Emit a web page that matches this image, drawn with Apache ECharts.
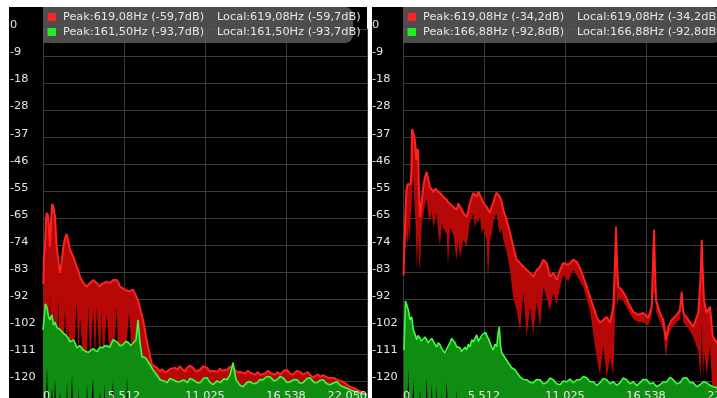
<!DOCTYPE html>
<html>
<head>
<meta charset="utf-8">
<script src="https://cdn.jsdelivr.net/npm/echarts@6/dist/echarts.min.js"></script>
<style>
  html, body { margin: 0; padding: 0; background: #fff; }
  #chart { width: 717px; height: 398px; }
</style>
</head>
<body>
<div id="chart"></div>
<script>
// Tick labels shown on the axes
const yTickLabels = ['0', '-9', '-18', '-28', '-37', '-46', '-55', '-65', '-74', '-83', '-92', '-102', '-111', '-120', ''];
const xTickLabels = ['0', '5 512', '11 025', '16 538', '22 050'];

// Legend readouts
const leftLegend = [
  ['Peak:619,08Hz (-59,7dB)', 'Local:619,08Hz (-59,7dB)'],
  ['Peak:161,50Hz (-93,7dB)', 'Local:161,50Hz (-93,7dB)']
];
const rightLegend = [
  ['Peak:619,08Hz (-34,2dB)', 'Local:619,08Hz (-34,2dB)'],
  ['Peak:166,88Hz (-92,8dB)', 'Local:166,88Hz (-92,8dB)']
];

// ---- Left screen: red trace (frequency in Hz, top of trace in dB, bottom of the filled band in dB)
const leftRedHz = [
  20, 68, 136, 204, 252, 340, 408, 476, 544, 619,
  701, 817, 932, 1041, 1157, 1259, 1382, 1497, 1613, 1701,
  1838, 2062, 2294, 2416, 2518, 2743, 2974, 3097, 3199, 3423,
  3539, 3655, 3879, 3981, 4104, 4335, 4560, 4784, 5016, 5138,
  5240, 5581, 5853, 6125, 6465, 6806, 7146, 7418,
  7758, 7963, 8099, 8303, 8439, 8643, 8779, 8983, 9120, 9324,
  9460, 9664, 9800, 10004, 10208, 10413, 10685, 10889, 11161, 11365,
  11570, 11842, 12046, 12182, 12522, 12727, 12931, 13203, 13407, 13747,
  13951, 14088, 14428, 14632, 14768, 15108, 15312, 15449, 15789, 15993,
  16129, 16401, 16606, 16810, 17014, 17286, 17490, 17695, 17831, 18035,
  18171, 18375, 18511, 18716, 18852, 19056, 19192, 19396, 19532, 19805,
  20008, 20213, 20417, 20689, 20893, 21166, 21370, 21710, 22050
];
const leftRedTop = [
  -87, -78, -74, -65, -62.7, -63.5, -64.1, -74.3, -66, -59.7,
  -60.5, -64.1, -74.3, -78.7, -83.2, -80, -74.3, -71.5, -69.9, -72,
  -75.3, -77.7, -81.1, -82.5, -84.5, -86.6, -87.9, -87.5, -86.6, -85.6,
  -86, -86.6, -87.9, -87, -86.6, -86.2, -86.6, -85.6, -85.6, -86.5,
  -87.9, -88.9, -89.5, -88.9, -92.4, -99.2, -108.4, -114.5,
  -115.5, -116.8, -116, -117.2, -116.9, -116, -116.5, -115.5, -116.2, -115,
  -115.8, -116.8, -115.5, -114.8, -115.5, -116.8, -116.2, -115, -115.5, -116.8,
  -116.5, -116.9, -115.8, -116.5, -116.2, -115.2, -115.5, -117, -116.9, -117.5,
  -116.5, -117.2, -117.9, -117, -117.9, -117.5, -116.5, -117.2, -117.9, -117,
  -117.9, -116.5, -116.2, -117.5, -117.9, -116.5, -116.9, -117.8, -117.9, -117,
  -117.9, -118.8, -118.6, -117.8, -118.6, -118, -118.2, -119, -118.6, -119,
  -119.6, -120, -120.3, -121.2, -122, -122.5, -123, -123.8, -124.7
];
const leftRedLow = [
  -114, -114, -100, -114, -114, -95, -114, -90, -114, -114,
  -96, -114, -114, -92, -114, -114, -114, -95, -114, -100,
  -114, -114, -93, -114, -98, -114, -114, -94, -114, -96,
  -114, -95, -114, -96, -114, -97, -114, -114, -95, -114,
  -114, -114, -97, -114, -114, -115, -118, -126,
  -126, -126, -126, -126, -126, -126, -126, -126, -126, -126,
  -126, -126, -126, -126, -126, -126, -126, -126, -126, -126,
  -126, -126, -126, -126, -126, -126, -126, -126, -126, -126,
  -126, -126, -126, -126, -126, -126, -126, -126, -126, -126,
  -126, -126, -126, -126, -126, -126, -126, -126, -126, -126,
  -126, -126, -126, -126, -126, -126, -126, -126, -126, -126,
  -126, -126, -126, -126, -126, -126, -126, -126, -126
];

// ---- Left screen: green trace
const leftGreenHz = [
  0, 68, 161.5, 272, 374, 476, 613, 715, 817, 953,
  1157, 1361, 1565, 1633, 1735, 1838, 1974, 2076, 2314, 2416,
  2518, 2722, 2926, 2994, 3097, 3199, 3403, 3505, 3675, 3879,
  4083, 4185, 4288, 4560, 4764, 4866, 5036, 5240, 5444, 5648,
  5717, 5819, 5989, 6125, 6329, 6465, 6601, 6738, 6942, 7078,
  7282, 7486, 7758,
  7963, 8235, 8439, 8643, 8847, 9120, 9324, 9596, 9800, 10004,
  10208, 10481, 10685, 10957, 11161, 11365, 11570, 11842, 12046, 12318,
  12522, 12727, 12931, 13135, 13407, 13611, 13883, 14088, 14360, 14564,
  14768, 14972, 15244, 15449, 15721, 15925, 16129, 16333, 16606, 16810,
  17082, 17286, 17490, 17695, 17967, 18171, 18443, 18647, 18852, 19056,
  19328, 19532, 19805, 20008, 20213, 20417, 20689, 20893, 21166, 21370,
  21710, 22050
];
const leftGreenTop = [
  -102.6, -99, -93.7, -95, -98, -99.2, -97.5, -101, -100, -101.9,
  -102.5, -103.6, -104.5, -104.8, -105.5, -106.7, -106.3, -106, -108.7, -108.4,
  -108, -109.4, -110, -110.2, -110.3, -110.4, -109, -109.5, -110, -108.5,
  -108.7, -108, -107.5, -108.4, -106, -106.5, -106.7, -108, -107.7, -106.5,
  -106.6, -107, -108, -108.4, -106, -99.2, -107, -111.8, -112, -112.8,
  -114.5, -116.2, -118,
  -119.6, -120, -120.6, -119.2, -119.6, -120.3, -120.3, -119.6, -120.6, -119.2,
  -119.6, -120.6, -120.6, -119, -118.9, -120.5, -121.3, -120, -120.6, -119.3,
  -119.6, -118, -113.8, -119.6, -121.5, -122, -120.5, -120.3, -121, -120.6,
  -119.5, -119.6, -118.5, -118.6, -120, -119.6, -118.5, -118.9, -120.5, -120.3,
  -119.5, -119.6, -120.8, -120.6, -119.2, -118.9, -120.5, -120.6, -119.8, -119.6,
  -121, -121.3, -120.6, -120.3, -121.5, -122, -122.5, -123, -123.5, -124,
  -124.3, -124.7
];
const leftGreenLow = [
  -135, -135, -135, -115, -135, -135, -122, -135, -119, -135,
  -124, -135, -135, -120, -135, -135, -118, -135, -135, -123,
  -135, -135, -135, -121, -135, -135, -119, -135, -135, -124,
  -135, -121, -135, -135, -120, -135, -135, -125, -135, -135,
  -118, -135, -135, -126, -135, -135, -135, -135, -135, -135,
  -135, -135, -135,
  -135, -135, -135, -135, -135, -135, -135, -135, -135, -135,
  -135, -135, -135, -135, -135, -135, -135, -135, -135, -135,
  -135, -135, -135, -135, -135, -135, -135, -135, -135, -135,
  -135, -135, -135, -135, -135, -135, -135, -135, -135, -135,
  -135, -135, -135, -135, -135, -135, -135, -135, -135, -135,
  -135, -135, -135, -135, -135, -135, -135, -135, -135, -135,
  -135, -135
];

// ---- Right screen: red trace
const rightRedHz = [
  34, 102, 170, 238, 306, 374, 442, 510, 578, 619,
  701, 783, 851, 898, 953, 1021, 1089, 1157, 1225, 1293,
  1382, 1497, 1613, 1722, 1838, 1953, 2062, 2178, 2294, 2402,
  2518, 2634, 2743, 2974, 3063, 3199, 3423, 3655, 3763, 3879,
  4104, 4335, 4444, 4560, 4784, 4900, 5016, 5125, 5240, 5356,
  5465, 5696, 5785, 5921, 6036, 6145, 6261, 6377, 6486, 6601,
  6717, 6826, 7057, 7282, 7507, 7738, 7963, 8187, 8419, 8643,
  8868, 9099, 9324, 9548, 9780, 10004, 10229, 10460, 10685, 10909,
  11250, 11590, 11821, 12046, 12270, 12502, 12727, 12951, 13182, 13407,
  13632, 13863, 14088, 14312, 14428, 14496, 14564, 14653, 14884, 15108,
  15333, 15673, 16013, 16354, 16694, 16926, 17014, 17082, 17150, 17218,
  17490, 17715, 17899, 18055, 18286, 18627, 18852, 18968, 19076, 19417,
  19757, 20097, 20247, 20329, 20417, 20485, 20669, 20893, 21077, 21370,
  21710, 22050
];
const rightRedTop = [
  -84, -72, -62, -55, -53, -52.5, -53.5, -53, -48, -34.2,
  -35.5, -37, -40, -44.7, -42, -41, -55.9, -64.1, -61, -58,
  -53.9, -50.5, -48.8, -51.5, -53.9, -54, -55.6, -54.5, -54.2, -55.5,
  -54.9, -56.5, -57.3, -58.3, -59, -59.3, -60.7, -61.7, -59.5, -60,
  -62.7, -64.1, -62, -59.3, -55.9, -56.5, -57.3, -55.5, -55.6, -58,
  -59.3, -60.7, -61.5, -62.7, -60.5, -59.3, -57, -55.9, -56.5, -57.3,
  -59, -61.7, -65.1, -69.5, -74.3, -78.7, -79.8, -81.1, -82.2, -83.2,
  -84.5, -82.2, -81.1, -78.7, -79.8, -84.5, -83.2, -85.6, -82.2, -79.8,
  -80.4, -78.7, -79.4, -81.5, -84.5, -87.9, -91.3, -94.7, -98.2, -100.2,
  -99.2, -98.2, -100.2, -94.7, -80, -67.5, -80, -87.9, -88.9, -90.7,
  -93.4, -96.5, -97.5, -96.8, -98.5, -94.7, -80, -68.5, -82, -92.4,
  -96.8, -99.2, -106, -101.6, -99.2, -97.5, -95.8, -89.6, -96.8, -99.2,
  -101.6, -96.8, -85, -71.9, -85, -92.4, -96.8, -94.7, -104.9, -107,
  -108, -110
];
const rightRedLow = [
  -86, -80, -74, -70, -74, -68, -72, -64, -62, -55,
  -50, -60, -66, -75, -83, -70, -78, -83, -72, -66,
  -64, -60, -58, -63, -66, -62, -68, -65, -63, -70,
  -74, -66, -68, -70, -81, -68, -70, -79, -72, -78,
  -72, -74, -70, -66, -63, -68, -65, -66, -64, -70,
  -68, -72, -86, -72, -70, -66, -64, -63, -67, -70,
  -68, -72, -76, -82, -92, -96, -103, -90, -105, -95,
  -104, -93, -102, -88, -92, -96, -90, -94, -88, -84,
  -86, -82, -84, -86, -88, -92, -96, -104, -112, -118,
  -108, -119, -112, -118, -100, -86, -95, -92, -92, -94,
  -96, -99, -100, -100, -101, -98, -92, -90, -90, -96,
  -100, -103, -112, -105, -102, -100, -99, -93, -100, -102,
  -105, -110, -119, -100, -120, -110, -118, -108, -125, -125,
  -125, -125
];

// ---- Right screen: green trace
const rightGreenHz = [
  68, 166.88, 252, 361, 476, 592, 701, 817, 932, 1021,
  1157, 1273, 1382, 1497, 1613, 1722, 1838, 1953, 2062, 2178,
  2294, 2402, 2518, 2634, 2743, 2858, 2974, 3083, 3199, 3314,
  3423, 3539, 3655, 3763, 3879, 3995, 4104, 4219, 4335, 4444,
  4560, 4675, 4784, 4900, 5016, 5125, 5240, 5356, 5465, 5581,
  5696, 5805, 5921, 6036, 6145, 6261, 6377, 6465, 6554, 6636,
  6717, 6942, 7166, 7398, 7623, 7793, 7963, 8187, 8419, 8643,
  8868, 9099, 9324, 9548, 9780, 10004, 10229, 10460, 10685, 10909,
  11141, 11365, 11590, 11821, 12046, 12270, 12502, 12727, 12951, 13182,
  13407, 13632, 13863, 14088, 14312, 14544, 14768, 14993, 15224, 15449,
  15673, 15904, 16129, 16354, 16585, 16810, 17035, 17266, 17490, 17715,
  17946, 18171, 18396, 18627, 18852, 19076, 19308, 19532, 19757, 19989,
  20213, 20437, 20669, 20893, 21118, 21370, 21710, 22050
];
const rightGreenTop = [
  -109.5, -92.8, -94, -95.8, -99.2, -98.2, -102.6, -104, -106, -104.5,
  -104.9, -106.5, -106.7, -105, -105.3, -107, -107, -105.5, -106, -107.5,
  -108.4, -107, -107.7, -109, -109.4, -110.5, -110.4, -108, -107, -105.5,
  -106, -107, -108.4, -108, -108.7, -110, -110, -108.5, -109.4, -107.5,
  -108.4, -106, -106.7, -105.5, -104.3, -106.5, -106, -104.5, -105, -103.5,
  -103.3, -105.5, -106, -108.5, -109.4, -107.5, -108.4, -104, -101.6, -108,
  -110.4, -112.1, -113.8, -115.5, -116.2, -117.5, -118.6, -119.5, -119.6, -120.5,
  -120.6, -119.5, -119.6, -121, -120.6, -119, -119.6, -121, -121.3, -120,
  -120.3, -119.4, -120.6, -119.6, -119.6, -118.5, -118.9, -120.3, -120.3, -121.5,
  -120.6, -119.2, -119.6, -121, -120.3, -121.5, -120.6, -119, -119.6, -121,
  -120.3, -121.6, -120.6, -119.5, -119.6, -121, -120.6, -122, -121.3, -120.4,
  -120.3, -118.8, -119.6, -121, -120.6, -119, -118.9, -120.6, -120.6, -122,
  -121.3, -120.3, -120.6, -121.5, -122, -122.3, -122.8, -123
];
const rightGreenLow = [
  -135, -135, -135, -116, -135, -135, -119.6, -135, -135, -135,
  -123, -135, -135, -135, -118.6, -135, -135, -121, -135, -135,
  -122, -135, -135, -124, -135, -135, -120, -135, -135, -135,
  -135, -135, -123, -135, -135, -135, -135, -135, -135, -135,
  -135, -135, -135, -135, -135, -135, -135, -135, -135, -135,
  -135, -135, -135, -135, -135, -135, -135, -135, -135, -135,
  -135, -135, -135, -135, -135, -135, -135, -135, -135, -135,
  -135, -135, -135, -135, -135, -135, -135, -135, -135, -135,
  -135, -135, -135, -135, -135, -135, -135, -135, -135, -135,
  -135, -135, -135, -135, -135, -135, -135, -135, -135, -135,
  -135, -135, -135, -135, -135, -135, -135, -135, -135, -135,
  -135, -135, -135, -135, -135, -135, -135, -135, -135, -135,
  -135, -135, -135, -135, -135, -135, -135, -135
];

// ---- Axis scale
const FMAX = 22050;
const FSTEP = FMAX / 4;
const DBSTEP = 120 / 13;
const DBMIN = -14 * DBSTEP;

const FONT = '"DejaVu Sans", "Noto Sans", sans-serif';
const TEXT = '#e6e6e6';
const RED_LINE = '#ff2222';
const RED_FILL = '#b70808';
const GREEN_LINE = '#3dff3d';
const GREEN_FILL = '#0f8c12';

const panels = [
  { left: 43, labelMargin: 33, bgX: 9, bgW: 358, legendX: 43, legendW: 310, lastAlign: 'right', legend: leftLegend,
    red: [leftRedHz, leftRedTop, leftRedLow], green: [leftGreenHz, leftGreenTop, leftGreenLow] },
  { left: 403, labelMargin: 31, bgX: 372, bgW: 345, legendX: 403, legendW: 318, lastAlign: 'center', legend: rightLegend,
    red: [rightRedHz, rightRedTop, rightRedLow], green: [rightGreenHz, rightGreenTop, rightGreenLow] }
];

const grids = [], xAxes = [], yAxes = [], series = [], graphics = [];

panels.forEach((p, gi) => {
  // fixed plot rectangle: the screens run past the bottom/right edges of the canvas
  grids.push({ left: p.left, top: 28.8, width: 324, height: 379.2, containLabel: false, outerBoundsMode: 'none' });

  const xBase = {
    gridIndex: gi, type: 'value', position: 'bottom', min: 0, max: FMAX, interval: FSTEP,
    axisLine: { show: false }, axisTick: { show: false }
  };
  // grid lines (behind the traces)
  xAxes.push(Object.assign({}, xBase, {
    splitLine: { show: true, lineStyle: { color: '#3b3b3b', width: 1 } },
    axisLabel: { show: false }
  }));
  // frequency labels (drawn over the traces)
  xAxes.push(Object.assign({}, xBase, {
    z: 10,
    splitLine: { show: false },
    axisLabel: {
      show: true, inside: true, margin: 6.5,
      color: TEXT, fontFamily: FONT, fontSize: 11.3,
      showMinLabel: true, showMaxLabel: true, hideOverlap: false,
      alignMinLabel: 'left', alignMaxLabel: p.lastAlign,
      formatter: v => xTickLabels[Math.round(v / FSTEP)]
    }
  }));

  yAxes.push({
    gridIndex: gi, type: 'value', min: DBMIN, max: 0, interval: DBSTEP,
    axisLine: { show: false }, axisTick: { show: false },
    splitLine: { show: true, lineStyle: { color: '#3b3b3b', width: 1 } },
    axisLabel: {
      show: true, align: 'left', verticalAlign: 'bottom', lineHeight: 7,
      margin: p.labelMargin,
      color: TEXT, fontFamily: FONT, fontSize: 11.3,
      showMinLabel: true, showMaxLabel: true,
      formatter: v => yTickLabels[Math.round(-v / DBSTEP)]
    }
  });

  // Filled band between the trace top and its lower edge, projected through the grid's axes
  const addTrace = (trace, lineColor, fillColor, lineWidth) => {
    const [hz, top, low] = trace;
    series.push({
      type: 'custom', xAxisIndex: gi * 2, yAxisIndex: gi, silent: true, clip: true,
      data: hz.map((f, i) => [f, top[i], low[i]]),
      encode: { x: 0, y: [1, 2] },
      renderItem: (params, api) => {
        if (params.dataIndex !== 0) return null;
        const upper = hz.map((f, i) => api.coord([f, top[i]]));
        const lower = hz.map((f, i) => api.coord([f, low[i]])).reverse();
        return {
          type: 'polygon',
          shape: { points: upper.concat(lower) },
          style: { fill: fillColor, stroke: null }
        };
      }
    });
    series.push({
      type: 'line', xAxisIndex: gi * 2, yAxisIndex: gi, silent: true,
      symbol: 'none', lineStyle: { color: lineColor, width: lineWidth },
      data: hz.map((f, i) => [f, top[i]])
    });
  };
  addTrace(p.red, RED_LINE, RED_FILL, 2);
  addTrace(p.green, GREEN_LINE, GREEN_FILL, 1.6);

  // screen background
  graphics.push({ type: 'rect', z: -10, silent: true,
    shape: { x: p.bgX, y: 7, width: p.bgW, height: 391 }, style: { fill: '#000' } });

  // legend box
  graphics.push({ type: 'rect', z: 100, silent: true,
    shape: { x: p.legendX, y: 7, width: p.legendW, height: 36, r: [0, 8, 8, 0] },
    style: { fill: 'rgba(88,88,88,0.88)' } });
  const swatches = [RED_LINE, '#22ee22'];
  p.legend.forEach((row, ri) => {
    const cy = 17 + ri * 15;
    graphics.push({ type: 'rect', z: 101, silent: true,
      shape: { x: p.legendX + 4.5, y: cy - 4, width: 8.5, height: 8 }, style: { fill: swatches[ri] } });
    graphics.push({ type: 'text', z: 101, silent: true, x: p.legendX + 20, y: cy,
      style: { text: row[0], fill: TEXT, fontFamily: FONT, fontSize: 11.3, verticalAlign: 'middle' } });
    graphics.push({ type: 'text', z: 101, silent: true, x: p.legendX + 174, y: cy,
      style: { text: row[1], fill: TEXT, fontFamily: FONT, fontSize: 11.3, verticalAlign: 'middle' } });
  });
});

const chart = echarts.init(document.getElementById('chart'), null, { renderer: 'canvas' });
chart.setOption({
  backgroundColor: '#ffffff',
  animation: false,
  grid: grids,
  xAxis: xAxes,
  yAxis: yAxes,
  series: series,
  graphic: { elements: graphics }
});
</script>
</body>
</html>
